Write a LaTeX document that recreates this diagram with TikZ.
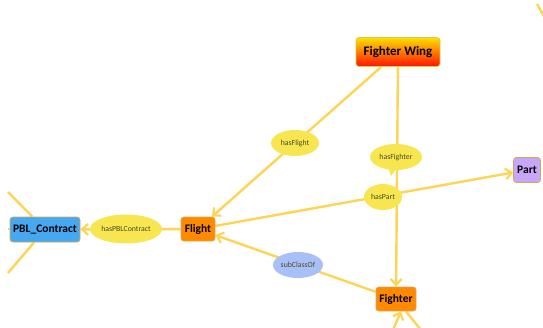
\documentclass[tikz,border=0pt]{standalone}
\usepackage{fontspec}
\setmainfont{Carlito}
\usetikzlibrary{arrows.meta,calc,shapes.geometric}
\pgfdeclarelayer{bg}
\pgfsetlayers{bg,main}
\definecolor{edgec}{HTML}{FFD455}
\definecolor{boxline}{HTML}{D2A850}
\definecolor{orangef}{HTML}{FF8A00}
\definecolor{bluef}{HTML}{46A8F0}
\definecolor{purplef}{HTML}{C8A6F8}
\definecolor{labelf}{HTML}{F8E650}
\definecolor{labelb}{HTML}{A8C0F8}
\definecolor{labeltext}{HTML}{4A4A28}
\tikzset{
  box/.style={draw=boxline, line width=0.8pt, rounded corners=3pt, inner sep=0pt,
    font=\fontsize{11.5}{12}\selectfont\bfseries, text=black},
  lab/.style={ellipse, fill=labelf, inner sep=0pt, font=\fontsize{7.8}{8}\selectfont, text=labeltext},
  edge/.style={draw=edgec, line width=2.4pt},
  arr/.style={edge, -{Straight Barb[length=6pt,width=11pt,line width=2.2pt]}},
}
\begin{document}
\begin{tikzpicture}[x=1pt,y=-1pt]
\useasboundingbox (0,0) rectangle (543,327);
\clip (0,0) rectangle (543,327);
% boxes
\node[box, minimum width=84pt, minimum height=29pt, top color=yellow!75!orange, bottom color=red!85!orange, draw=yellow!60!lime!70!gray,
  font=\fontsize{13}{13}\selectfont\bfseries] (fw) at (398,52) {Fighter Wing};
\node[box, fill=purplef, minimum width=27pt, minimum height=25pt] (part) at (527,170) {Part};
\node[box, fill=bluef, minimum width=70pt, minimum height=25pt] (pbl) at (45,229.5) {PBL\_Contract};
\node[box, fill=orangef, minimum width=34pt, minimum height=24pt] (flight) at (198,229) {Flight};
\node[box, fill=orangef, minimum width=40pt, minimum height=24pt] (fighter) at (396,299) {Fighter};
% labels
\node[lab, minimum width=48pt, minimum height=26pt] (lflight) at (295,143) {hasFlight};
\fill[labelf] (388,167) -- (391,176) -- (397,168) -- cycle;
\node[lab, minimum width=52pt, minimum height=26pt] (lfighter) at (396,157) {hasFighter};
\node[lab, minimum width=38pt, minimum height=26pt] (lpart) at (383,197) {hasPart};
\node[lab, minimum width=72pt, minimum height=29pt] (lpbl) at (126,229) {hasPBLContract};
\node[lab, fill=labelb, minimum width=50pt, minimum height=26pt] (lsub) at (298,265) {subClassOf};
% free ends
\coordinate (l1) at (8,192);
\coordinate (l2) at (8,273);
\coordinate (l3) at (8,229);
\coordinate (b1) at (393,330);
\coordinate (b2) at (421,330);
\coordinate (t1) at (537,4);
\coordinate (t2) at (546,20);
\begin{pgfonlayer}{bg}
\draw[arr] (fw) -- (flight);
\draw[arr] (fw) -- (fighter);
\draw[arr] (flight) -- (part);
\draw[arr] (flight) -- (pbl);
\draw[arr] (fighter) -- (flight);
\draw[edge] (pbl) -- (l1);
\draw[edge] (pbl) -- (l2);
\draw[edge] (pbl) -- (l3);
\draw[arr] (b1) -- ($(fighter.south)+(5,0)$);
\draw[edge] (fighter) -- (b2);
\draw[edge] (t1) -- (t2);
\end{pgfonlayer}
\end{tikzpicture}
\end{document}
